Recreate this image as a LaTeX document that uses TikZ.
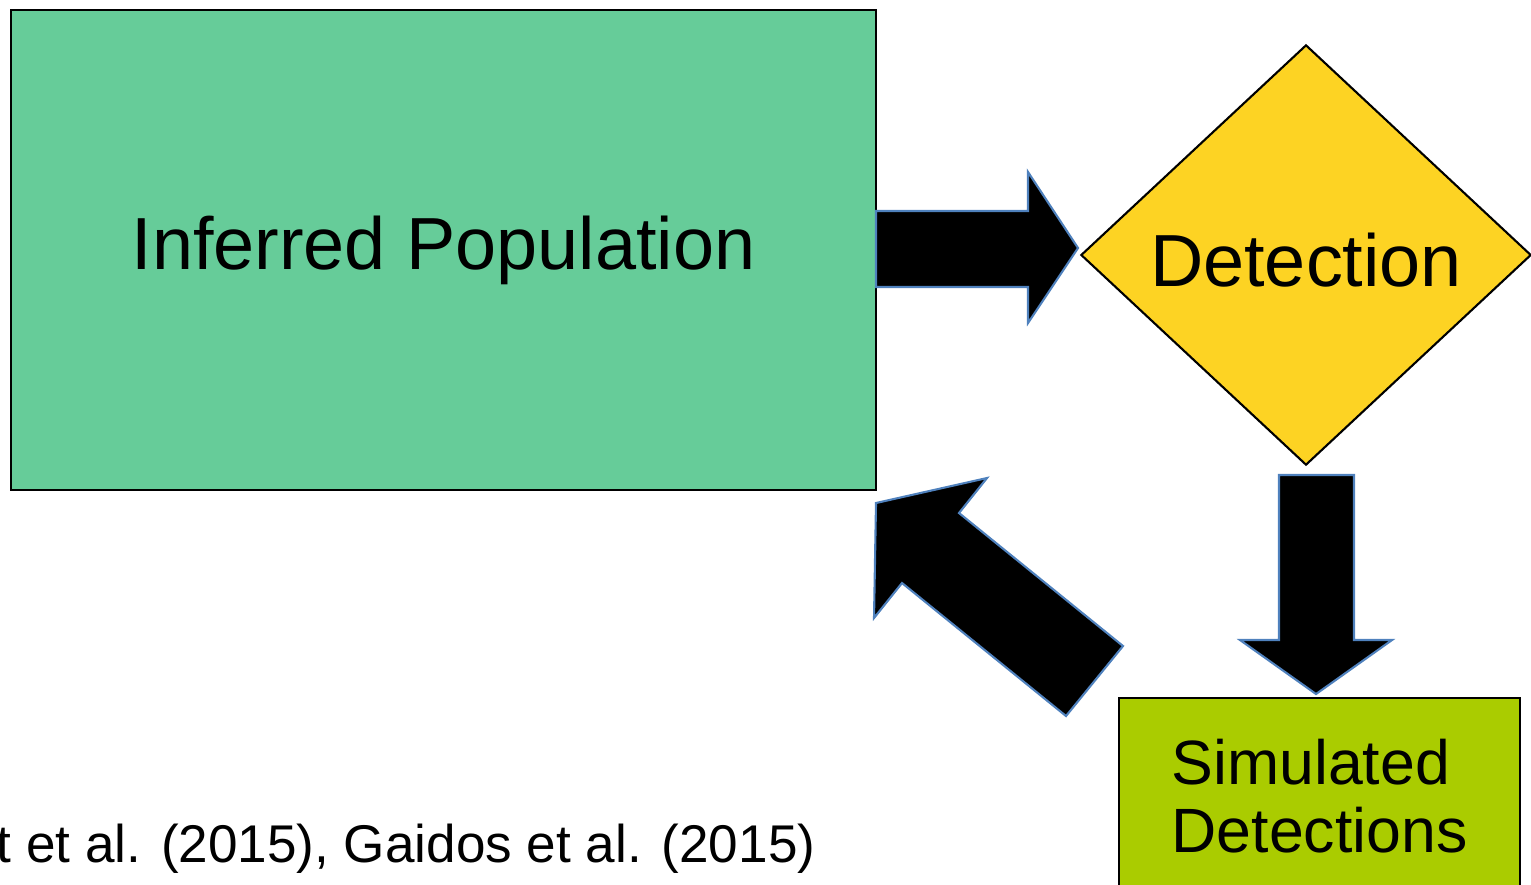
\documentclass[tikz,border=0pt]{standalone}
\usepackage{fontspec}
\setmainfont{Liberation Sans}
\usetikzlibrary{shapes.geometric}
\definecolor{vert}{HTML}{66CC99}
\definecolor{jaune}{HTML}{FDD323}
\definecolor{citron}{HTML}{AACC00}
\definecolor{bord}{HTML}{4F81BD}

\begin{document}
\begin{tikzpicture}[x=0.01cm,y=-0.01cm,
    boite/.style={draw=black,line width=0.6pt,inner sep=0pt},
    fleche/.style={fill=black,draw=bord,line width=0.6pt,line join=miter}]
  \useasboundingbox (0,0) rectangle (1531,884);
  \clip (0,0) rectangle (1531,884);

  % Population.
  \node[boite,fill=vert,minimum width=8.65cm,minimum height=4.8cm,
    font=\fontsize{21}{25}\selectfont] (pop) at (443.5,250) {Inferred Population};
  % Detection.
  \node[boite,diamond,fill=jaune,minimum width=4.5cm,minimum height=4.2cm,
    text height=18pt,font=\fontsize{21}{25}\selectfont] (det) at (1306,255) {Detection};
  % Simulation.
  \node[boite,fill=citron,minimum width=4.01cm,minimum height=1.96cm,align=left,
    font=\fontsize{17.8}{19.35}\selectfont] (sim) at (1319.5,796) {Simulated\\Detections};
  % Reference.
  \node[anchor=base east,inner sep=0pt,font=\fontsize{15.1}{18}\selectfont]
    (ref) at (816,862) {rt et al. (2015), Gaidos et al. (2015)};

  % Fleches.
  \path[fleche] (876,211) -- (1028,211) -- (1028,172) -- (1078,248)
    -- (1028,323) -- (1028,287) -- (876,287) -- cycle;
  \path[fleche] (1279,475) -- (1354,475) -- (1354,640) -- (1392,640)
    -- (1316,694) -- (1240,640) -- (1279,640) -- cycle;
  \path[fleche] (876,503) -- (987,478) -- (959,513) -- (1123,646)
    -- (1066,716) -- (902,583) -- (874,618) -- cycle;
\end{tikzpicture}
\end{document}
